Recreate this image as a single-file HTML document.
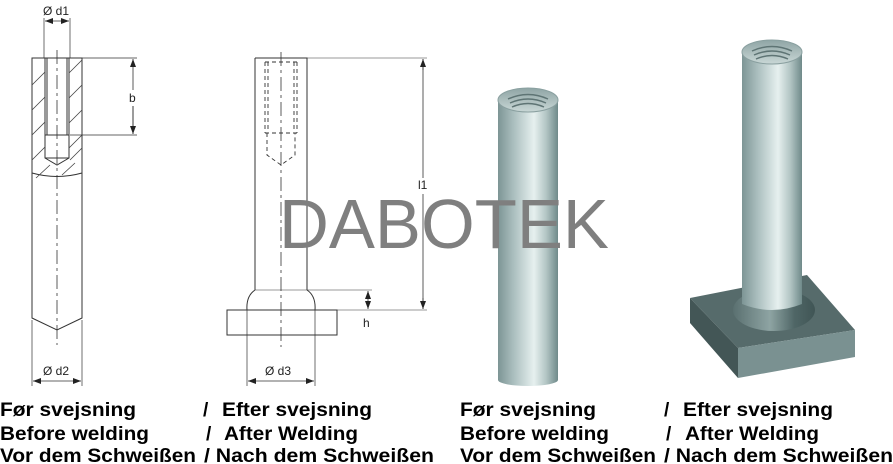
<!DOCTYPE html>
<html><head><meta charset="utf-8"><style>
html,body{margin:0;padding:0;background:#fff;}
svg{display:block}
</style></head><body>
<svg width="893" height="464" viewBox="0 0 893 464" xmlns="http://www.w3.org/2000/svg">
<defs>
<linearGradient id="cyl" x1="0" x2="1" y1="0" y2="0">
<stop offset="0" stop-color="#7d9595"/>
<stop offset="0.25" stop-color="#a9bdbd"/>
<stop offset="0.6" stop-color="#e6f0ef"/>
<stop offset="0.8" stop-color="#b4c6c5"/>
<stop offset="1" stop-color="#6f8a8a"/>
</linearGradient>
<linearGradient id="top" x1="0" x2="0" y1="0" y2="1">
<stop offset="0" stop-color="#8fa5a5"/>
<stop offset="1" stop-color="#c9d7d6"/>
</linearGradient>
<linearGradient id="ring" x1="0" x2="1">
<stop offset="0" stop-color="#5a7070"/>
<stop offset="0.45" stop-color="#8ea4a3"/>
<stop offset="0.75" stop-color="#4f6666"/>
<stop offset="1" stop-color="#405555"/>
</linearGradient>
<marker id="a" markerWidth="8" markerHeight="6" refX="8" refY="3" orient="auto-start-reverse" markerUnits="userSpaceOnUse"><path d="M0,0 L8,3 L0,6 z" fill="#222"/></marker>
</defs>
<g stroke="#333" stroke-width="1" fill="none">
<path d="M32,58 H82 V318 L57,330 L32,318 Z"/>
<path d="M32,173 Q57,180 82,173"/>
<path d="M45,58 V135 H69 V58"/>
<path d="M47,58 V135 M67,58 V135"/>
<path d="M45,135 V158 L57,165 L69,158 V135"/>
<path d="M45,158 H69"/>
<g stroke="#444" stroke-width="0.8">
<path d="M32,85 L45,72 M32,110 L45,97 M32,135 L45,122 M32,160 L45,147"/>
<path d="M69,73 L82,60 M69,98 L82,85 M69,123 L82,110 M69,148 L82,135"/>
<path d="M36,178 L50,165 M62,175 L75,163 M70,160 L82,148"/>
</g>
<path d="M57,50 V345" stroke-dasharray="14,4,3,4" stroke-width="0.8"/>
<path d="M44,18 V58 M70,18 V58" stroke-width="0.7"/>
<path d="M45,21 H69" marker-start="url(#a)" marker-end="url(#a)" stroke-width="0.8"/>
<path d="M82,58 H137 M70,135 H137" stroke-width="0.7"/>
<path d="M133,59 V90 M133,106 V134" marker-start="url(#a)" stroke-width="0.8"/>
<path d="M133,106 V134" marker-end="url(#a)" stroke-width="0.8"/>
<path d="M32,320 V386 M82,320 V386" stroke-width="0.7"/>
<path d="M33,381 H81" marker-start="url(#a)" marker-end="url(#a)" stroke-width="0.8"/>

<path d="M255,58 H307 V290 M255,58 V290"/>
<path d="M255,290 Q246,296 247,310 M307,290 Q316,296 315,310"/>
<path d="M255,290 H307" stroke-width="0.6"/>
<rect x="227" y="310" width="110" height="25"/>
<g stroke-dasharray="4,3" stroke-width="0.9">
<path d="M265,62 V133 M297,62 V133 M268,62 V130 M294,62 V130 M265,62 H297 M265,133 H297"/>
<path d="M267,133 V155 L281,165 L295,155 V133"/>
</g>
<path d="M281,52 V347" stroke-dasharray="14,4,3,4" stroke-width="0.8"/>
<path d="M307,58 H427 M337,310 H427 M307,290 H372" stroke-width="0.6"/>
<path d="M423,59 V178 M423,194 V309" stroke-width="0.8"/>
<path d="M423,70 V59" marker-end="url(#a)" stroke-width="0.8"/>
<path d="M423,298 V309" marker-end="url(#a)" stroke-width="0.8"/>
<path d="M368,291 V309" stroke-width="0.8" marker-start="url(#a)" marker-end="url(#a)"/>
<path d="M247,310 V386 M315,310 V386" stroke-width="0.7"/>
<path d="M248,381 H314" marker-start="url(#a)" marker-end="url(#a)" stroke-width="0.8"/>
</g>
<g font-family="Liberation Sans, sans-serif" font-size="12" fill="#222">
<text x="43" y="15">Ø d1</text>
<text x="129" y="102">b</text>
<text x="43" y="375">Ø d2</text>
<text x="418" y="189">l1</text>
<text x="363" y="327">h</text>
<text x="265" y="375">Ø d3</text>
</g>

<rect x="498" y="100" width="60" height="280" fill="url(#cyl)"/>
<ellipse cx="528" cy="380" rx="30" ry="6" fill="url(#cyl)"/>
<ellipse cx="528" cy="100" rx="30" ry="12" fill="url(#top)" stroke="#8aa0a0"/>
<g fill="none" stroke="#5e7474" stroke-width="1.5">
<path d="M508,99 Q528,90 548,99"/><path d="M510,103 Q528,95 546,103"/><path d="M512,107 Q528,100 544,107"/>
</g>

<polygon points="690,298 807,275 855,330 738,348" fill="#566b6b"/>
<polygon points="690,298 738,348 738,378 690,323" fill="#435656"/>
<polygon points="738,348 855,330 855,357 738,378" fill="#7a9191"/>
<ellipse cx="774" cy="310" rx="41" ry="21" fill="url(#ring)"/>
<rect x="742" y="52" width="60" height="252" fill="url(#cyl)"/>
<path d="M742,304 Q772,316 802,304" fill="url(#cyl)"/>
<ellipse cx="772" cy="52" rx="30" ry="12" fill="url(#top)" stroke="#8aa0a0"/>
<g fill="none" stroke="#5e7474" stroke-width="1.5">
<path d="M752,51 Q772,42 792,51"/><path d="M754,55 Q772,47 790,55"/><path d="M756,59 Q772,52 788,59"/>
</g>

<text x="279" y="248" font-family="Liberation Sans, sans-serif" font-size="70" fill="#7f7f7f" textLength="330" lengthAdjust="spacingAndGlyphs">DABOTEK</text>

<g font-family="Liberation Sans, sans-serif" font-weight="bold" font-size="19" fill="#000">
<text x="0" y="416" textLength="136" lengthAdjust="spacingAndGlyphs">Før svejsning</text>
<text x="203" y="416">/</text>
<text x="222" y="416" textLength="150" lengthAdjust="spacingAndGlyphs">Efter svejsning</text>
<text x="0" y="440" textLength="149" lengthAdjust="spacingAndGlyphs">Before welding</text>
<text x="206" y="440">/</text>
<text x="224" y="440" textLength="134" lengthAdjust="spacingAndGlyphs">After Welding</text>
<text x="0" y="462" textLength="196" lengthAdjust="spacingAndGlyphs">Vor dem Schweißen</text>
<text x="204" y="462" textLength="230" lengthAdjust="spacingAndGlyphs">/ Nach dem Schweißen</text>

<text x="460" y="416" textLength="136" lengthAdjust="spacingAndGlyphs">Før svejsning</text>
<text x="664" y="416">/</text>
<text x="683" y="416" textLength="150" lengthAdjust="spacingAndGlyphs">Efter svejsning</text>
<text x="460" y="440" textLength="149" lengthAdjust="spacingAndGlyphs">Before welding</text>
<text x="666" y="440">/</text>
<text x="685" y="440" textLength="134" lengthAdjust="spacingAndGlyphs">After Welding</text>
<text x="460" y="462" textLength="196" lengthAdjust="spacingAndGlyphs">Vor dem Schweißen</text>
<text x="664" y="462" textLength="229" lengthAdjust="spacingAndGlyphs">/ Nach dem Schweißen</text>
</g>
</svg>
</body></html>
